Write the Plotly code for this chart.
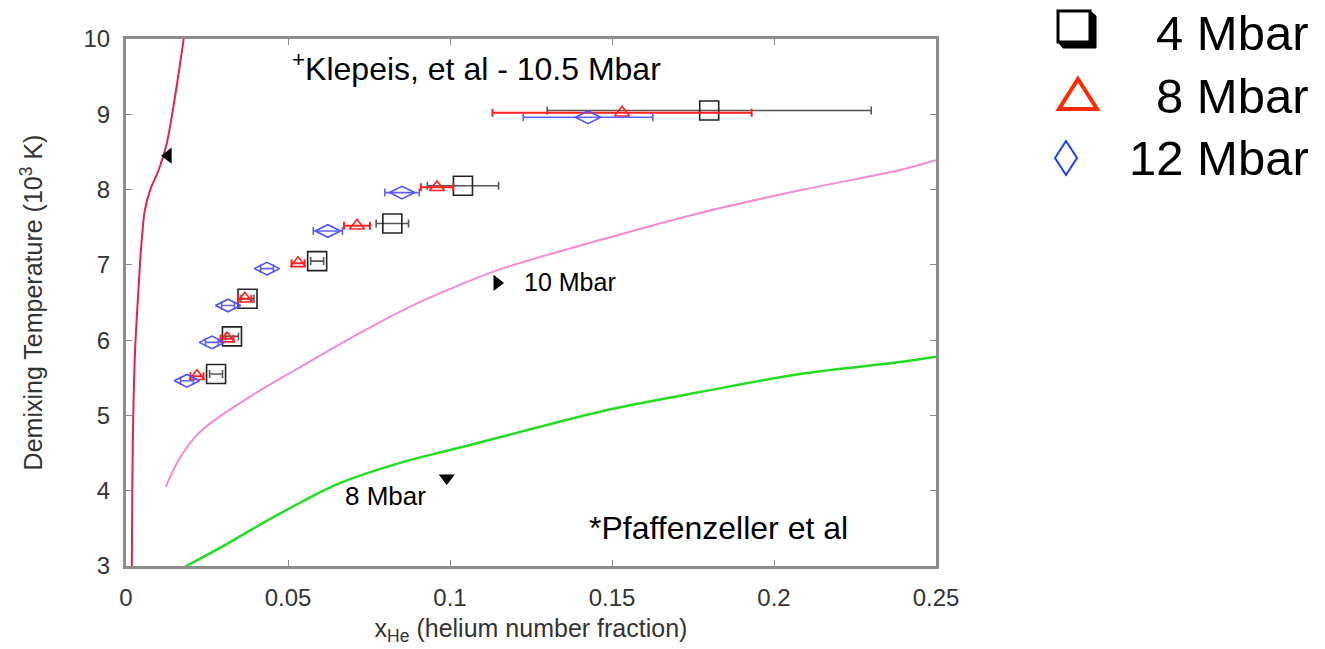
import plotly.graph_objects as go

# ---------------- data ----------------
x_4 = [0.0278, 0.0327, 0.0375, 0.0590, 0.0822, 0.1040, 0.1800]
y_4 = [5.55, 6.05, 6.55, 7.05, 7.55, 8.05, 9.05]
e_4 = [0.002, 0.002, 0.002, 0.002, 0.005, 0.011, 0.050]

x_8 = [0.0219, 0.0312, 0.0367, 0.0531, 0.0713, 0.0960, 0.1531]
y_8 = [5.52, 6.02, 6.55, 7.02, 7.52, 8.03, 9.02]
e_8 = [0.002, 0.002, 0.002, 0.002, 0.004, 0.005, 0.040]

x_12 = [0.0188, 0.0265, 0.0315, 0.0435, 0.0623, 0.0852, 0.1426]
y_12 = [5.46, 5.97, 6.46, 6.95, 7.45, 7.96, 8.96]
e_12 = [0.002, 0.002, 0.002, 0.002, 0.0045, 0.0053, 0.020]

klepeis_x = [0.0018, 0.0022, 0.0028, 0.0036, 0.0043, 0.0050, 0.0058, 0.0075, 0.0100, 0.0125, 0.0150, 0.0178]
klepeis_y = [3.00, 4.90, 5.86, 6.50, 7.00, 7.40, 7.72, 8.00, 8.25, 8.60, 9.20, 10.00]

pf10_x = [0.0123, 0.0167, 0.0228, 0.0383, 0.0537, 0.0691, 0.0846, 0.1000, 0.1154, 0.1463, 0.1772, 0.2080, 0.2389, 0.2500]
pf10_y = [4.05, 4.44, 4.78, 5.25, 5.64, 6.02, 6.38, 6.68, 6.94, 7.33, 7.69, 7.99, 8.26, 8.39]

pf8_x = [0.0182, 0.0290, 0.0414, 0.0537, 0.0660, 0.0846, 0.1000, 0.1154, 0.1463, 0.1772, 0.2080, 0.2389, 0.2500]
pf8_y = [2.99, 3.24, 3.55, 3.84, 4.10, 4.37, 4.54, 4.71, 5.05, 5.31, 5.55, 5.71, 5.78]

pointer_x = [0.0130, 0.1145, 0.0990]
pointer_y = [8.45, 6.76, 4.17]
pointer_sym = ["triangle-left", "triangle-right", "triangle-down"]

x_ticks = [0, 0.05, 0.1, 0.15, 0.2, 0.25]
x_ticklabels = ["0", "0.05", "0.1", "0.15", "0.2", "0.25"]
y_ticks = [3, 4, 5, 6, 7, 8, 9, 10]

legend_labels = ["4 Mbar", "8 Mbar", "12 Mbar"]

FONT = "Liberation Sans, Arial, sans-serif"

fig = go.Figure()

# theory curves
fig.add_trace(go.Scatter(x=klepeis_x, y=klepeis_y, mode="lines", line_shape="spline",
                         line=dict(color="#e0244c", width=2), showlegend=False, hoverinfo="skip"))
fig.add_trace(go.Scatter(x=pf10_x, y=pf10_y, mode="lines", line_shape="spline",
                         line=dict(color="#f48ad0", width=2), showlegend=False, hoverinfo="skip"))
fig.add_trace(go.Scatter(x=pf8_x, y=pf8_y, mode="lines", line_shape="spline",
                         line=dict(color="#22dd22", width=2.5), showlegend=False, hoverinfo="skip"))

# data series
fig.add_trace(go.Scatter(x=x_4, y=y_4, mode="markers", name=legend_labels[0],
                         marker=dict(symbol="square-open", size=19, color="#222222", line=dict(width=1.6)),
                         error_x=dict(type="data", array=e_4, color="#555555", thickness=1.6, width=4),
                         showlegend=False))
fig.add_trace(go.Scatter(x=x_8, y=y_8, mode="markers", name=legend_labels[1],
                         marker=dict(symbol="triangle-up-open", size=13, color="#ff2020", line=dict(width=1.6)),
                         error_x=dict(type="data", array=e_8, color="#ff2020", thickness=2, width=4),
                         showlegend=False))
fig.add_trace(go.Scatter(x=x_12, y=y_12, mode="markers", name=legend_labels[2],
                         marker=dict(symbol="diamond-wide-open", size=18, color="#5050ff", line=dict(width=1.6)),
                         error_x=dict(type="data", array=e_12, color="#6060ff", thickness=1.6, width=4),
                         showlegend=False))

# pointer triangles
fig.add_trace(go.Scatter(x=pointer_x, y=pointer_y, mode="markers",
                         marker=dict(symbol=pointer_sym, size=14, color="black"),
                         showlegend=False, hoverinfo="skip"))

# plot-area geometry in page pixels (body margin removed by post_script)
OFF = 0
L, R, T, B = 126, 936, 39, 566
W, H = 1325 - OFF, 649 - OFF


def px(x):
    return (x - L) / (R - L)


def py(y):
    return (B - y) / (B - T)


annotations = [
    dict(x=0.0506, y=9.63, xref="x", yref="y", text="<sup>+</sup>Klepeis, et al - 10.5 Mbar",
         showarrow=False, xanchor="left", yanchor="middle", font=dict(size=32, color="black", family=FONT)),
    dict(x=0.1222, y=6.77, xref="x", yref="y", text="10 Mbar",
         showarrow=False, xanchor="left", yanchor="middle", font=dict(size=25, color="black", family=FONT)),
    dict(x=0.0670, y=3.93, xref="x", yref="y", text="8 Mbar",
         showarrow=False, xanchor="left", yanchor="middle", font=dict(size=26, color="black", family=FONT)),
    dict(x=0.1423, y=3.51, xref="x", yref="y", text="*Pfaffenzeller et al",
         showarrow=False, xanchor="left", yanchor="middle", font=dict(size=32, color="black", family=FONT)),
]

# legend text
for lab, ypx in zip(legend_labels, [33, 96, 158]):
    annotations.append(dict(x=px(1310), y=py(ypx), xref="paper", yref="paper", text=lab,
                            showarrow=False, xanchor="right", yanchor="middle", borderpad=0,
                            font=dict(size=49, color="black", family=FONT)))

shapes = [
    # square with shadow
    dict(type="rect", xref="paper", yref="paper", x0=px(1058), x1=px(1090), y0=py(42), y1=py(11),
         line=dict(color="black", width=3), fillcolor="white"),
    dict(type="path", xref="paper", yref="paper",
         path="M {a},{b} L {c},{b2} L {c},{d} L {e},{d} L {f},{g} L {a},{g} Z".format(
             a=px(1090), b=py(11), c=px(1096), b2=py(16), d=py(48), e=px(1063), f=px(1058), g=py(42)),
         line=dict(color="black", width=1), fillcolor="black"),
    # triangle
    dict(type="path", xref="paper", yref="paper",
         path="M {a},{b} L {c},{d} L {e},{d} Z".format(a=px(1078), b=py(79), c=px(1097), d=py(109), e=px(1059)),
         line=dict(color="#ff2a00", width=4)),
    # diamond
    dict(type="path", xref="paper", yref="paper",
         path="M {a},{b} L {c},{d} L {a},{e} L {f},{d} Z".format(a=px(1066), b=py(141), c=px(1077), d=py(158), e=py(175), f=px(1055)),
         line=dict(color="#1a3cff", width=2)),
]

axis_common = dict(showgrid=False, zeroline=False, showline=True, mirror="ticks",
                   linecolor="#8c8c8c", linewidth=3, ticks="inside", ticklen=6, tickwidth=1.2,
                   tickcolor="#8c8c8c", tickfont=dict(size=24, color="#333333", family=FONT))

fig.update_layout(
    width=W, height=H,
    margin=dict(l=L - OFF, r=W - (R - OFF), t=T - OFF, b=H - (B - OFF)),
    paper_bgcolor="white", plot_bgcolor="white",
    xaxis=dict(range=[0, 0.25], tickvals=x_ticks, ticktext=x_ticklabels, ticklabelstandoff=8,
               title=dict(text="x<sub>He</sub> (helium number fraction)", standoff=10,
                          font=dict(size=25, color="#333333", family=FONT)),
               **axis_common),
    yaxis=dict(range=[3, 10], tickvals=y_ticks, ticklabelstandoff=8,
               title=dict(text="Demixing Temperature (10<sup>3</sup> K)", standoff=34,
                          font=dict(size=25, color="#333333", family=FONT)),
               **axis_common),
    annotations=annotations,
    shapes=shapes,
    showlegend=False,
)

fig.write_html("out.html", config={"displayModeBar": False},
               post_script="document.body.style.margin='0px';document.body.style.overflow='hidden';")
